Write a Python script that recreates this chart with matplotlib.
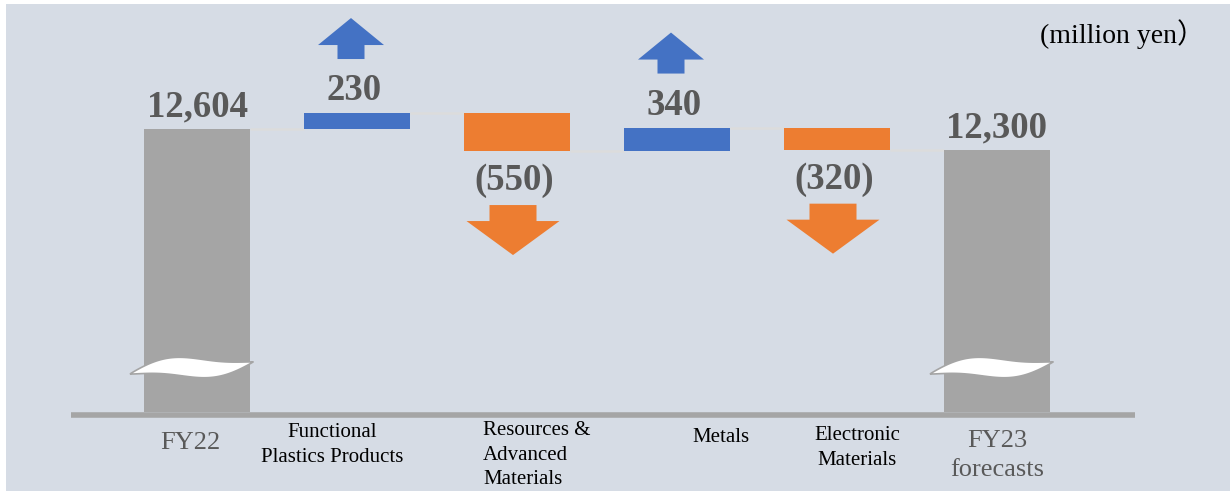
import numpy as np
import matplotlib.pyplot as plt
from matplotlib.patches import Polygon, Rectangle

# operating income bridge, million yen
categories = ['FY22', 'Functional\nPlastics Products', 'Resources &\nAdvanced\nMaterials',
              'Metals', 'Electronic\nMaterials', 'FY23\nforecasts']
start_value = 12604
changes = [230, -550, 340, -320]
end_value = 12300
value_labels = ['12,604', '230', '(550)', '340', '(320)', '12,300']

BG = '#d6dce5'
GREY = '#a5a5a5'
BLUE = '#4472c4'
ORANGE = '#ed7d31'
TXT = '#595959'

# pixel scales (fig at 100 dpi)
XPX = 1 / 160.0      # category units per pixel
YPX = 14.47          # yen per pixel
BASE = 8508          # value where the broken axis sits
W, H = 1230, 491
base_px = 412
x0_px = 197

fig = plt.figure(figsize=(W / 100, H / 100), dpi=100, facecolor='white')
# panel background with thin white margin top/left
fig.add_artist(Rectangle((6 / W, -0.01), 1.01, 1.01 - 4 / H, transform=fig.transFigure,
                         facecolor=BG, edgecolor='none', zorder=0))

ax = fig.add_axes([0, 0, 1, 1])
ax.patch.set_visible(False)
ax.set_xlim(-x0_px * XPX, (W - x0_px) * XPX)
ax.set_ylim(BASE - (H - base_px) * YPX, BASE + base_px * YPX)
ax.axis('off')

bw = 106 * XPX
# bottoms/tops of the waterfall
tops, bottoms, colors = [start_value], [BASE], [GREY]
run = start_value
for c in changes:
    new = run + c
    bottoms.append(min(run, new))
    tops.append(max(run, new))
    colors.append(BLUE if c > 0 else ORANGE)
    run = new
tops.append(end_value)
bottoms.append(BASE)
colors.append(GREY)

x = np.arange(len(categories))
ax.bar(x, np.array(tops) - np.array(bottoms), bottom=bottoms, width=bw,
       color=colors, zorder=2)

# connectors
levels = [start_value]
run = start_value
for c in changes:
    run += c
    levels.append(run)
for i in range(len(x) - 1):
    lvl = levels[i] if i < len(x) - 2 else end_value
    ax.plot([x[i] + bw / 2, x[i + 1] - bw / 2], [lvl, lvl],
            color='#dcdcdc', lw=1.8, zorder=1, solid_capstyle='butt')

# axis line
ax.plot([x[0] - 126 * XPX, x[-1] + 138 * XPX], [BASE - 2.5 * YPX] * 2,
        color=GREY, lw=4, solid_capstyle='butt', zorder=3)

serif = ['Liberation Serif', 'DejaVu Serif']


def arrow(cx, y0, up, color, sw, sh, hw, hh):
    s = 1 if up else -1
    pts = [(-sw / 2, 0), (sw / 2, 0), (sw / 2, sh), (hw / 2, sh), (0, sh + hh),
           (-hw / 2, sh), (-sw / 2, sh)]
    pts = [(cx + px * XPX, y0 + s * py * YPX) for px, py in pts]
    ax.add_patch(Polygon(pts, closed=True, facecolor=color, edgecolor='none', zorder=3))


for i, lab in enumerate(value_labels):
    if i in (0, 5):
        ax.annotate(lab, (x[i], tops[i]), xytext=(0, 12), textcoords='offset pixels',
                    ha='center', va='baseline', fontsize=26.5, fontweight='bold',
                    color=TXT, family=serif, zorder=4)
    elif changes[i - 1] > 0:
        ax.annotate(lab, (x[i], tops[i]), xytext=(-3, 13), textcoords='offset pixels',
                    ha='center', va='baseline', fontsize=26.5, fontweight='bold',
                    color=TXT, family=serif, zorder=4)
        arrow(x[i] - 6 * XPX, tops[i] + 54 * YPX, True, BLUE, 27, 14, 66, 27)
    else:
        ax.annotate(lab, (x[i], bottoms[i]), xytext=(-3, -39), textcoords='offset pixels',
                    ha='center', va='baseline', fontsize=26.5, fontweight='bold',
                    color=TXT, family=serif, zorder=4)
        arrow(x[i] - 4 * XPX, bottoms[i] - 54 * YPX, False, ORANGE, 47, 16, 93, 34)

# break marks on the total bars
t = np.linspace(0, 1, 80)
for i in (0, 5):
    cx = x[i]
    xl, xr = cx - 67 * XPX, cx + 56 * XPX
    xs = xl + (xr - xl) * t
    c = 7 - 12 * t - 4 * np.sin(2 * np.pi * t)
    th = 10 * np.sin(np.pi * t) ** 0.9
    ymid = BASE + 45 * YPX
    top = ymid - (c - th) * YPX
    bot = ymid - (c + th * 0.9) * YPX
    pts = list(zip(xs, top)) + list(zip(xs[::-1], bot[::-1]))
    ax.add_patch(Polygon(pts, closed=True, facecolor='white', edgecolor=GREY,
                         lw=1.2, zorder=3))

# category labels
cat_style = [
    dict(dx=-7, dy=-20, size=19, color=TXT, ma='center'),
    dict(dx=-25, dy=-11, size=15, color='black', ma='center'),
    dict(dx=20, dy=-9, size=15, color='black', ma='left'),
    dict(dx=44, dy=-16, size=15, color='black', ma='center'),
    dict(dx=20, dy=-14, size=15, color='black', ma='center'),
    dict(dx=0, dy=-18, size=19, color=TXT, ma='center'),
]
for i, (lab, st) in enumerate(zip(categories, cat_style)):
    ax.annotate(lab, (x[i], BASE), xytext=(st['dx'], st['dy']), textcoords='offset pixels',
                ha='center', va='top', fontsize=st['size'], color=st['color'],
                multialignment=st['ma'], linespacing=1.4, family=serif, zorder=4)

ax.text(1122 / W, 1 - 34 / H, '(million yen\uff09', transform=ax.transAxes,
        ha='center', va='center', fontsize=20, color='black',
        family=['Liberation Serif', 'Noto Sans CJK JP'])

fig.savefig('out.png', dpi=100, facecolor='white')
